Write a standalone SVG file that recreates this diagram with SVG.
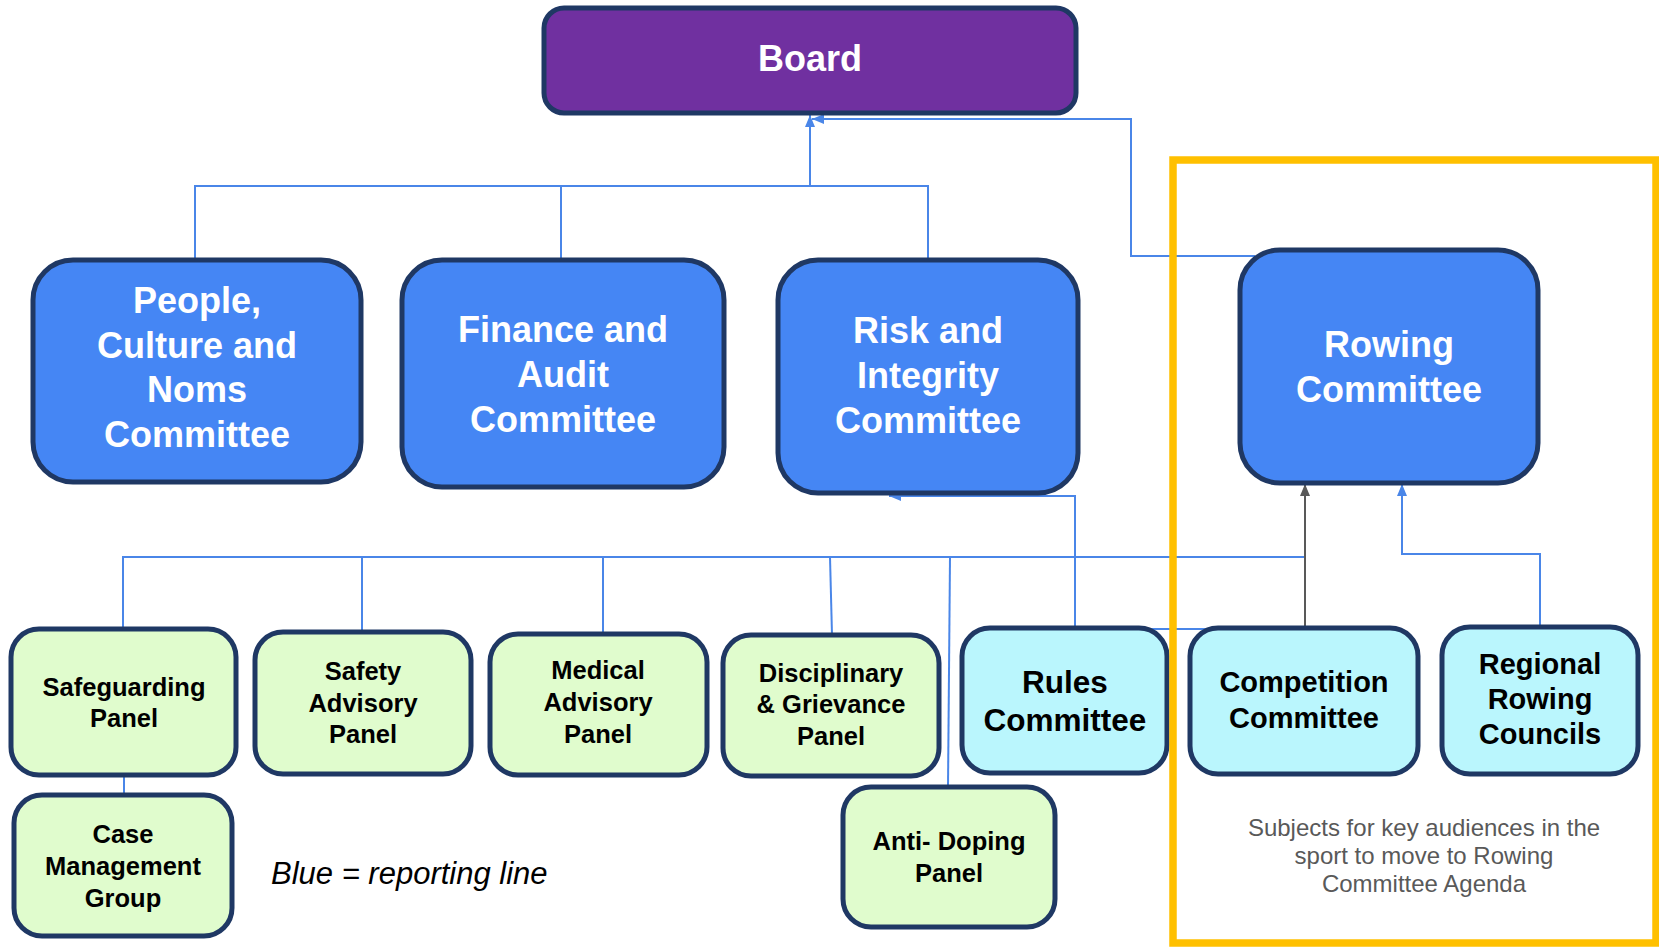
<svg xmlns="http://www.w3.org/2000/svg" width="1659" height="948" viewBox="0 0 1659 948">
<defs>
<style>
.node{stroke:#1F3864;stroke-width:5}
.board{fill:#7030A0}
.com{fill:#4586F4}
.pan{fill:#E0FCCD}
.cy{fill:#BAF6FD}
.tw{font-family:"Liberation Sans",Arial,sans-serif;font-weight:bold;font-size:36px;fill:#FFFFFF;text-anchor:middle}
.tb{font-family:"Liberation Sans",Arial,sans-serif;font-weight:bold;font-size:25.5px;fill:#000000;text-anchor:middle}
.tc{font-family:"Liberation Sans",Arial,sans-serif;font-weight:bold;font-size:29px;fill:#000000;text-anchor:middle}
.conn{fill:none;stroke:#4A86E8;stroke-width:2}
.gray{fill:none;stroke:#595959;stroke-width:2}
</style>
<marker id="ab" markerUnits="userSpaceOnUse" markerWidth="12" markerHeight="10" viewBox="0 0 12 10" refX="12" refY="5" orient="auto"><path d="M0,0 L12,5 L0,10 z" fill="#4A86E8"/></marker>
<marker id="ag" markerUnits="userSpaceOnUse" markerWidth="12" markerHeight="10" viewBox="0 0 12 10" refX="12" refY="5" orient="auto"><path d="M0,0 L12,5 L0,10 z" fill="#595959"/></marker>
</defs>
<rect width="1659" height="948" fill="#FFFFFF"/>
<g id="connectors">
<path class="conn" d="M195,259 V186 H928 V259"/>
<path class="conn" d="M561,186 V259"/>
<path class="conn" d="M810,186 V115" marker-end="url(#ab)"/>
<path class="conn" d="M1255,256 H1131 V119 H812" marker-end="url(#ab)"/>
<path class="conn" d="M1075,628 V496 H889" marker-end="url(#ab)"/>
<path class="conn" d="M123,629 V557 H1305"/>
<path class="conn" d="M362,557 V632"/>
<path class="conn" d="M603,557 V634"/>
<path class="conn" d="M830,557 L832,635"/>
<path class="conn" d="M950,557 L948,787"/>
<path class="conn" d="M1150,629 H1262"/>
<path class="conn" d="M124,775 V795"/>
<path class="conn" d="M1540,627 V554 H1402 V484" marker-end="url(#ab)"/>
<path class="gray" d="M1305,628 V484" marker-end="url(#ag)"/>
</g>
<g id="board"><rect class="node board" x="544" y="8" width="532" height="105" rx="20"/><text class="tw" x="810" y="71">Board</text></g>
<g id="people"><rect class="node com" x="33" y="260" width="328" height="222" rx="40"/><text class="tw" x="197"><tspan x="197" y="313">People,</tspan><tspan x="197" y="358">Culture and</tspan><tspan x="197" y="402">Noms</tspan><tspan x="197" y="447">Committee</tspan></text></g>
<g id="finance"><rect class="node com" x="402" y="260" width="322" height="227" rx="40"/><text class="tw"><tspan x="563" y="342">Finance and</tspan><tspan x="563" y="387">Audit</tspan><tspan x="563" y="432">Committee</tspan></text></g>
<g id="risk"><rect class="node com" x="778" y="260" width="300" height="233" rx="40"/><text class="tw"><tspan x="928" y="343">Risk and</tspan><tspan x="928" y="388">Integrity</tspan><tspan x="928" y="433">Committee</tspan></text></g>
<g id="rowing"><rect class="node com" x="1240" y="250" width="298" height="233" rx="40"/><text class="tw"><tspan x="1389" y="357">Rowing</tspan><tspan x="1389" y="402">Committee</tspan></text></g>
<g id="safeguarding"><rect class="node pan" x="11" y="629" width="225" height="146" rx="28"/><text class="tb"><tspan x="124" y="696">Safeguarding</tspan><tspan x="124" y="727">Panel</tspan></text></g>
<g id="safety"><rect class="node pan" x="255" y="632" width="216" height="142" rx="28"/><text class="tb"><tspan x="363" y="680">Safety</tspan><tspan x="363" y="712">Advisory</tspan><tspan x="363" y="743">Panel</tspan></text></g>
<g id="medical"><rect class="node pan" x="490" y="634" width="217" height="141" rx="28"/><text class="tb"><tspan x="598" y="679">Medical</tspan><tspan x="598" y="711">Advisory</tspan><tspan x="598" y="743">Panel</tspan></text></g>
<g id="disciplinary"><rect class="node pan" x="723" y="635" width="216" height="141" rx="28"/><text class="tb"><tspan x="831" y="682">Disciplinary</tspan><tspan x="831" y="713">&amp; Grievance</tspan><tspan x="831" y="745">Panel</tspan></text></g>
<g id="rules"><rect class="node cy" x="962" y="628" width="205" height="145" rx="28"/><text class="tc" style="font-size:31.5px"><tspan x="1065" y="693">Rules</tspan><tspan x="1065" y="731">Committee</tspan></text></g>
<g id="antidoping"><rect class="node pan" x="843" y="787" width="212" height="140" rx="28"/><text class="tb"><tspan x="949" y="850">Anti- Doping</tspan><tspan x="949" y="882">Panel</tspan></text></g>
<g id="casemanagement"><rect class="node pan" x="14" y="795" width="218" height="141" rx="28"/><text class="tb"><tspan x="123" y="843">Case</tspan><tspan x="123" y="875">Management</tspan><tspan x="123" y="907">Group</tspan></text></g>
<g id="competition"><rect class="node cy" x="1190" y="628" width="228" height="146" rx="28"/><text class="tc"><tspan x="1304" y="692">Competition</tspan><tspan x="1304" y="728">Committee</tspan></text></g>
<g id="regional"><rect class="node cy" x="1442" y="627" width="196" height="147" rx="28"/><text class="tc"><tspan x="1540" y="674">Regional</tspan><tspan x="1540" y="709">Rowing</tspan><tspan x="1540" y="744">Councils</tspan></text></g>
<rect x="1173" y="160" width="483" height="783" fill="none" stroke="#FFC000" stroke-width="7.5"/>
<text font-family="'Liberation Sans',Arial,sans-serif" font-size="24" fill="#595959" text-anchor="middle"><tspan x="1424" y="836">Subjects for key audiences in the</tspan><tspan x="1424" y="864">sport to move to Rowing</tspan><tspan x="1424" y="892">Committee Agenda</tspan></text>
<text x="271" y="884" font-family="'Liberation Sans',Arial,sans-serif" font-size="31" font-style="italic" fill="#000000">Blue = reporting line</text>
</svg>
